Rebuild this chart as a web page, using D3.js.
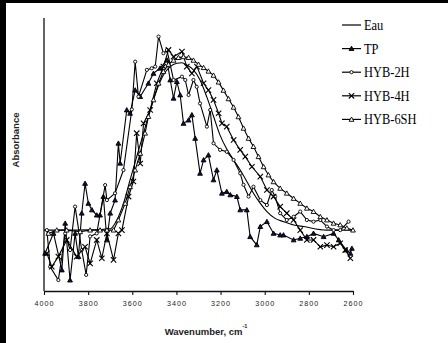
<!DOCTYPE html>
<html>
<head>
<meta charset="utf-8">
<script src="https://cdn.jsdelivr.net/npm/d3@7"></script>
<style>
  body { margin: 0; background: #fff; }
  svg { display: block; }
</style>
</head>
<body>
<div id="chart"></div>
<script>
const W = 448, H = 343;

// x ticks (wavenumber, cm-1)
const xTicks = [4000, 3800, 3600, 3400, 3200, 3000, 2800, 2600];

// [wavenumber, absorbance (arbitrary units)]
const eau = [[4000,.223],[3900,.223],[3800,.224],[3700,.228],[3670,.26],[3640,.321],[3610,.407],[3580,.492],
  [3549,.578],[3519,.663],[3489,.736],[3459,.791],[3428,.822],[3398,.834],[3375,.836],[3353,.828],[3323,.81],
  [3293,.773],[3262,.71],[3232,.64],[3202,.57],[3172,.52],[3141,.48],[3111,.443],[3081,.401],[3051,.358],
  [3020,.321],[2990,.291],[2953,.266],[2915,.254],[2869,.242],[2824,.236],[2718,.223],[2600,.223]];

const tp = [[3995,.138],[3957,.211],[3919,.077],[3904,.248],[3882,.04],[3859,.211],[3844,.126],[3829,.285],
  [3814,.394],[3799,.321],[3783,.297],[3761,.278],[3746,.278],[3731,.346],[3715,.187],[3700,.285],[3678,.333],
  [3663,.541],[3655,.468],[3625,.663],[3610,.651],[3587,.736],[3564,.712],[3527,.761],[3504,.797],[3474,.816],
  [3443,.846],[3428,.773],[3413,.706],[3398,.767],[3383,.718],[3368,.614],[3345,.626],[3330,.645],[3315,.559],
  [3293,.431],[3277,.48],[3255,.498],[3232,.407],[3217,.443],[3194,.358],[3172,.364],[3156,.352],[3126,.346],
  [3111,.297],[3081,.297],[3066,.199],[3036,.169],[3020,.236],[2990,.254],[2960,.211],[2930,.205],[2915,.205],
  [2869,.187],[2839,.193],[2809,.199],[2779,.211],[2733,.199],[2688,.211],[2665,.187],[2630,.15],[2612,.138],[2605,.156]];

const hyb2h = [[3987,.223],[3972,.089],[3935,.04],[3904,.211],[3882,.15],[3859,.309],[3829,.15],[3809,.059],
  [3791,.2],[3761,.211],[3723,.388],[3715,.333],[3678,.358],[3640,.443],[3602,.665],[3587,.84],[3572,.712],
  [3534,.81],[3512,.816],[3496,.822],[3481,.932],[3459,.871],[3443,.883],[3413,.773],[3375,.785],[3360,.773],
  [3345,.718],[3323,.773],[3308,.748],[3293,.687],[3262,.602],[3247,.663],[3232,.541],[3202,.517],[3172,.51],
  [3141,.48],[3111,.431],[3096,.389],[3073,.346],[3051,.382],[3020,.333],[2990,.315],[2968,.37],[2953,.346],
  [2930,.285],[2900,.26],[2869,.272],[2839,.291],[2809,.26],[2779,.254],[2748,.26],[2718,.236],[2688,.223],
  [2658,.223],[2620,.254]];

const hyb4h = [[3987,.138],[3965,.089],[3935,.126],[3897,.187],[3852,.126],[3814,.162],[3791,.101],[3761,.187],
  [3738,.12],[3715,.211],[3685,.114],[3663,.211],[3647,.223],[3617,.346],[3595,.401],[3580,.578],[3564,.467],
  [3549,.614],[3519,.663],[3489,.761],[3459,.822],[3436,.883],[3413,.858],[3375,.877],[3353,.822],[3330,.797],
  [3307,.822],[3277,.761],[3255,.736],[3232,.7],[3209,.651],[3194,.614],[3172,.602],[3141,.553],[3111,.517],
  [3088,.492],[3058,.455],[3020,.419],[2990,.37],[2960,.346],[2930,.309],[2900,.285],[2869,.26],[2839,.223],
  [2809,.187],[2779,.187],[2748,.162],[2718,.168],[2688,.162],[2658,.175],[2635,.15],[2612,.12]];

const hyb6sh = [[3980,.211],[3942,.223],[3897,.223],[3836,.217],[3791,.223],[3746,.223],[3715,.223],[3685,.223],
  [3663,.26],[3632,.321],[3610,.382],[3587,.443],[3564,.504],[3542,.578],[3527,.639],[3504,.7],[3481,.761],
  [3459,.804],[3436,.83],[3413,.845],[3391,.855],[3368,.858],[3345,.855],[3323,.845],[3300,.83],[3277,.818],
  [3255,.805],[3232,.79],[3209,.765],[3187,.735],[3164,.704],[3141,.673],[3119,.638],[3096,.596],[3073,.559],
  [3051,.529],[3028,.492],[3005,.455],[2983,.425],[2960,.4],[2930,.376],[2900,.358],[2869,.339],[2839,.321],
  [2809,.303],[2779,.291],[2748,.272],[2718,.26],[2688,.248],[2658,.242],[2628,.23],[2600,.223]];

const seriesNames = ["Eau", "TP", "HYB-2H", "HYB-4H", "HYB-6SH"];
const seriesData = [eau, tp, hyb2h, hyb4h, hyb6sh];
const seriesMarks = ["none", "triFilled", "circle", "cross", "triOpen"];

const svg = d3.select("#chart").append("svg")
  .attr("width", W)
  .attr("height", H);

// black scan border (left + top)
svg.append("rect").attr("x", 0).attr("y", 0).attr("width", W).attr("height", 3).attr("fill", "#000");
svg.append("rect").attr("x", 0).attr("y", 0).attr("width", 6).attr("height", H).attr("fill", "#000");

const x = d3.scaleLinear().domain([4000, 2600]).range([44, 353]);
const y = d3.scaleLinear().domain([0, 1]).range([291, 18]);

// x axis
const xAxis = svg.append("g")
  .attr("transform", "translate(0,291)")
  .call(d3.axisBottom(x).tickValues(xTicks).tickFormat(d3.format("d")).tickSizeInner(4).tickSizeOuter(0).tickPadding(6));
xAxis.select(".domain").attr("stroke", "#111").attr("stroke-width", 1.3);
xAxis.selectAll(".tick line").attr("stroke", "#111").attr("stroke-width", 1.1);
xAxis.selectAll(".tick text")
  .attr("font-family", "'Liberation Sans', Arial, sans-serif")
  .attr("font-size", 7.2)
  .attr("letter-spacing", 1)
  .attr("fill", "#222");

// y axis (no ticks)
svg.append("line")
  .attr("x1", 44).attr("x2", 44)
  .attr("y1", y(1)).attr("y2", 291)
  .attr("stroke", "#111").attr("stroke-width", 1.3);

// titles
const xt = svg.append("text")
  .attr("x", 206).attr("y", 335)
  .attr("text-anchor", "middle")
  .attr("font-family", "'Liberation Sans', Arial, sans-serif")
  .attr("font-size", 9.5)
  .attr("font-weight", "bold")
  .attr("fill", "#222");
xt.append("tspan").text("Wavenumber, cm");
xt.append("tspan").attr("dy", -7).attr("font-size", 5.5).text("-1");

svg.append("text")
  .attr("transform", "translate(19,140) rotate(-90)")
  .attr("text-anchor", "middle")
  .attr("font-family", "'Liberation Sans', Arial, sans-serif")
  .attr("font-size", 9.5)
  .attr("font-weight", "bold")
  .attr("fill", "#222")
  .text("Absorbance");

function drawMark(g, type, cx, cy) {
  if (type === "circle") {
    g.append("circle").attr("cx", cx).attr("cy", cy).attr("r", 1.6)
      .attr("fill", "#fff").attr("stroke", "#000").attr("stroke-width", 0.9);
  } else if (type === "triFilled" || type === "triOpen") {
    const s = 2.4;
    g.append("path")
      .attr("d", `M${cx},${cy - s}L${cx + s},${cy + s * 0.8}L${cx - s},${cy + s * 0.8}Z`)
      .attr("fill", type === "triFilled" ? "#101048" : "#fff")
      .attr("stroke", "#000").attr("stroke-width", 0.9);
  } else if (type === "cross") {
    const s = 2.7;
    g.append("path")
      .attr("d", `M${cx - s},${cy - s}L${cx + s},${cy + s}M${cx - s},${cy + s}L${cx + s},${cy - s}`)
      .attr("stroke", "#000").attr("stroke-width", 1.1);
  }
}

const line = d3.line().x(d => x(d[0])).y(d => y(d[1]));
const smooth = d3.line().x(d => x(d[0])).y(d => y(d[1])).curve(d3.curveMonotoneX);

seriesData.forEach((data, i) => {
  const g = svg.append("g");
  g.append("path")
    .datum(data)
    .attr("d", seriesMarks[i] === "none" ? smooth : line)
    .attr("fill", "none")
    .attr("stroke", "#000")
    .attr("stroke-width", 1.1);
  if (seriesMarks[i] !== "none") {
    data.forEach(d => drawMark(g, seriesMarks[i], x(d[0]), y(d[1])));
  }
});

// legend
const legend = svg.append("g");
seriesNames.forEach((name, i) => {
  const ly = 25 + i * 23.6;
  legend.append("line")
    .attr("x1", 342).attr("x2", 361)
    .attr("y1", ly).attr("y2", ly)
    .attr("stroke", "#000").attr("stroke-width", 1.2);
  drawMark(legend, seriesMarks[i], 351.5, ly);
  legend.append("text")
    .attr("transform", `translate(364,${ly + 5}) scale(0.83,1)`)
    .attr("font-family", "'Liberation Serif', 'Times New Roman', serif")
    .attr("font-size", 15)
    .attr("fill", "#000")
    .text(name);
});
</script>
</body>
</html>
